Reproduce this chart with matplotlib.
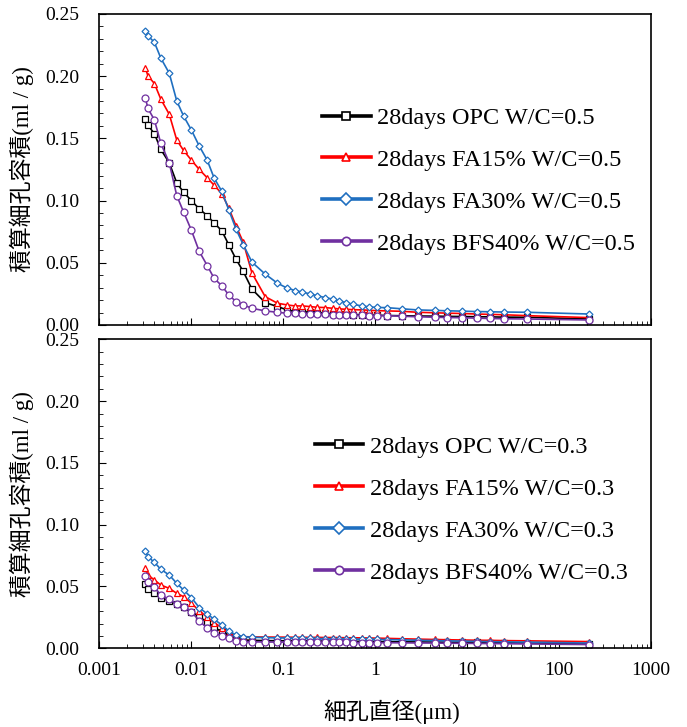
import matplotlib
matplotlib.use("Agg")
import matplotlib.pyplot as plt
from matplotlib.lines import Line2D
from matplotlib.ticker import LogLocator, MultipleLocator, FixedLocator, FixedFormatter

# 細孔直径 (µm)
diameter = [0.0032, 0.0034, 0.0040, 0.0047, 0.0058, 0.0070, 0.0083, 0.0101, 0.0123, 0.0150,
            0.0178, 0.0216, 0.0257, 0.0308, 0.037, 0.046, 0.064, 0.087, 0.111, 0.135,
            0.162, 0.196, 0.236, 0.286, 0.347, 0.41, 0.49, 0.58, 0.72, 0.87,
            1.04, 1.36, 1.95, 2.9, 4.5, 6.1, 8.9, 12.7, 17.8, 25.2, 45, 213]

# W/C=0.5
opc_05 = [0.1653, 0.1605, 0.1538, 0.1411, 0.1304, 0.1142, 0.1067, 0.1000, 0.0933, 0.0879,
          0.0820, 0.0758, 0.0645, 0.0530, 0.0430, 0.0288, 0.0180, 0.0148, 0.0121, 0.0108,
          0.0108, 0.0102, 0.0100, 0.0094, 0.0089,
          0.0088, 0.0086, 0.0084, 0.0082, 0.0080, 0.0078, 0.0076, 0.0074, 0.0072, 0.0071,
          0.0069, 0.0068, 0.0066, 0.0065, 0.0063, 0.0062, 0.0048]
fa15_05 = [0.2065, 0.2003, 0.1941, 0.1815, 0.1694, 0.1487, 0.1403, 0.1325, 0.1250, 0.1183,
           0.1124, 0.1056, 0.0941, 0.0798, 0.0664, 0.0417, 0.0228, 0.0175, 0.0161, 0.0153,
           0.0153, 0.0148, 0.0142, 0.0140, 0.0134,
           0.0129, 0.0126, 0.0123, 0.0121, 0.0118, 0.0115, 0.0113, 0.0110, 0.0102, 0.0098,
           0.0095, 0.0092, 0.0088, 0.0085, 0.0082, 0.0075, 0.0059]
fa30_05 = [0.2366, 0.2325, 0.2272, 0.2145, 0.2024, 0.1801, 0.1680, 0.1567, 0.1438, 0.1325,
           0.1183, 0.1075, 0.0927, 0.0772, 0.0645, 0.0505, 0.0409, 0.0336, 0.0296, 0.0277,
           0.0264, 0.0250, 0.0235, 0.0220, 0.0208,
           0.0193, 0.0179, 0.0166, 0.0153, 0.0145, 0.0141, 0.0139, 0.0130, 0.0121, 0.0117,
           0.0114, 0.0111, 0.0108, 0.0106, 0.0104, 0.0102, 0.0088]
bfs40_05 = [0.1823, 0.1742, 0.1648, 0.1460, 0.1304, 0.1040, 0.0909, 0.0761, 0.0591, 0.0478,
            0.0376, 0.0315, 0.0242, 0.0188, 0.0161, 0.0134, 0.0113, 0.0102, 0.0094, 0.0094,
            0.0089, 0.0089, 0.0086, 0.0086, 0.0081,
            0.0080, 0.0079, 0.0078, 0.0077, 0.0076, 0.0075, 0.0075, 0.0070, 0.0066, 0.0062,
            0.0060, 0.0058, 0.0055, 0.0052, 0.0050, 0.0048, 0.0040]

# W/C=0.3
opc_03 = [0.0520, 0.0477, 0.0445, 0.0410, 0.0385, 0.0358, 0.0337, 0.0296, 0.0256, 0.0210,
          0.0170, 0.0134, 0.0108, 0.0081, 0.0067,
          0.0064, 0.0062, 0.0061, 0.0060, 0.0060, 0.0059, 0.0059, 0.0058, 0.0058, 0.0057,
          0.0057, 0.0056, 0.0056, 0.0055, 0.0055, 0.0054, 0.0053, 0.0052, 0.0051, 0.0050,
          0.0049, 0.0048, 0.0047, 0.0046, 0.0045, 0.0043, 0.0037]
fa15_03 = [0.0647, 0.0593, 0.0553, 0.0512, 0.0485, 0.0445, 0.0418, 0.0364, 0.0304, 0.0251,
           0.0207, 0.0167, 0.0121, 0.0100, 0.0094,
           0.0092, 0.0091, 0.0090, 0.0090, 0.0089, 0.0089, 0.0088, 0.0088, 0.0087, 0.0087,
           0.0086, 0.0085, 0.0085, 0.0084, 0.0083, 0.0082, 0.0080, 0.0077, 0.0074, 0.0071,
           0.0069, 0.0067, 0.0065, 0.0064, 0.0062, 0.0060, 0.0054]
fa30_03 = [0.0790, 0.0741, 0.0696, 0.0639, 0.0593, 0.0526, 0.0472, 0.0410, 0.0329, 0.0278,
           0.0235, 0.0189, 0.0140, 0.0108, 0.0094, 0.0089,
           0.0086, 0.0084, 0.0083, 0.0082, 0.0081, 0.0080, 0.0079, 0.0078, 0.0077, 0.0076,
           0.0075, 0.0074, 0.0073, 0.0072, 0.0071, 0.0070, 0.0068, 0.0065, 0.0062, 0.0060,
           0.0058, 0.0056, 0.0054, 0.0052, 0.0050, 0.0042]
bfs40_03 = [0.0585, 0.0534, 0.0493, 0.0431, 0.0396, 0.0358, 0.0337, 0.0296, 0.0223, 0.0162,
            0.0126, 0.0100, 0.0081, 0.0062, 0.0054,
            0.0052, 0.0051, 0.0050, 0.0050, 0.0049, 0.0049, 0.0048, 0.0048, 0.0048, 0.0047,
            0.0047, 0.0047, 0.0046, 0.0046, 0.0046, 0.0045, 0.0045, 0.0044, 0.0043, 0.0042,
            0.0041, 0.0040, 0.0039, 0.0038, 0.0037, 0.0035, 0.0030]

xticks = [0.001, 0.01, 0.1, 1, 10, 100, 1000]
xticklabels = ['0.001', '0.01', '0.1', '1', '10', '100', '1000']

colors = ['#000000', '#ff0000', '#1f6fc0', '#7030a0']
markers = ['s', '^', 'D', 'o']
msizes = [4.5, 4.5, 3.5, 5]
names = ['OPC', 'FA15%', 'FA30%', 'BFS40%']

serif = ['Liberation Serif', 'Noto Sans CJK JP']

fig = plt.figure(figsize=(6.87, 7.27), dpi=100)
ax1 = fig.add_axes([0.1441, 0.5530, 0.8035, 0.4278])
ax2 = fig.add_axes([0.1441, 0.1083, 0.8035, 0.4248])


def draw(ax, series, wc, leg_x, leg_y):
    for y, c, m, ms in zip(series, colors, markers, msizes):
        ax.plot(diameter, y, color=c, lw=1.2, marker=m, ms=ms,
                mfc='white', mec=c, mew=0.9)
    handles = [Line2D([], [], color=c, lw=2.6, marker=m, ms=6, mfc='white', mec=c, mew=1.2)
               for c, m in zip(colors, markers)]
    labels = ['28days %s W/C=%s' % (n, wc) for n in names]
    ax.legend(handles, labels, loc='center left', bbox_to_anchor=(leg_x, leg_y),
              frameon=False, prop={'family': serif, 'size': 17.5},
              handlelength=2.0, handletextpad=0.25, labelspacing=0.82,
              borderpad=0, borderaxespad=0)
    ax.set_xscale('log')
    ax.set_xlim(0.001, 1000)
    ax.set_ylim(0, 0.25)
    ax.yaxis.set_major_locator(MultipleLocator(0.05))
    ax.yaxis.set_minor_locator(MultipleLocator(0.01))
    ax.xaxis.set_major_locator(FixedLocator(xticks))
    ax.xaxis.set_minor_locator(LogLocator(base=10, subs=range(2, 10), numticks=20))
    ax.tick_params(which='both', direction='in', labelsize=14)
    ax.tick_params(which='major', length=5)
    ax.tick_params(which='minor', length=3)
    ax.tick_params(axis='y', pad=14)
    ax.set_yticks([0, 0.05, 0.10, 0.15, 0.20, 0.25])
    ax.set_yticklabels(['0.00', '0.05', '0.10', '0.15', '0.20', '0.25'], family=serif)
    ax.set_ylabel('積算細孔容積(ml / g)', family=serif, fontsize=16.5)
    ax.yaxis.set_label_coords(-0.117, 0.5)
    for s in ax.spines.values():
        s.set_linewidth(1.2)


draw(ax1, [opc_05, fa15_05, fa30_05, bfs40_05], '0.5', 0.404, 0.463)
draw(ax2, [opc_03, fa15_03, fa30_03, bfs40_03], '0.3', 0.391, 0.448)

ax1.set_xticklabels([])
ax2.xaxis.set_major_formatter(FixedFormatter(xticklabels))
for t in ax2.get_xticklabels():
    t.set_family(serif)
ax2.tick_params(axis='x', pad=10)
ax2.set_xlabel('細孔直径(μm)', family=serif, fontsize=16.5)
ax2.xaxis.set_label_coords(0.531, -0.165)

fig.savefig('out.png', dpi=100)
